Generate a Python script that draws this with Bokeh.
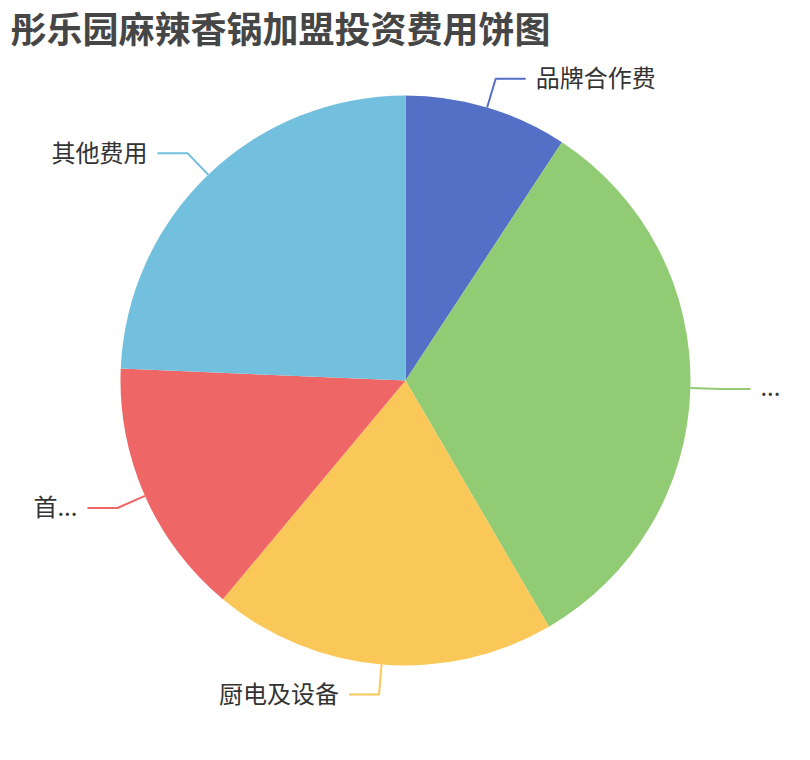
import math
from bokeh.plotting import figure
from bokeh.models import Range1d, ColumnDataSource, Label
from bokeh.core.properties import value
from bokeh.embed import file_html
from bokeh.resources import INLINE

# ---- data ----
title_text = "彤乐园麻辣香锅加盟投资费用饼图"
labels = ["品牌合作费", "...", "厨电及设备", "首...", "其他费用"]
values = [3.8, 13.3, 8.0, 6.0, 10.0]
colors = ["#5470c6", "#91cc75", "#fac858", "#ee6666", "#73c0de"]

W, H = 794, 744
CX, CY, R = 405, H - 380, 285
LEN1, LEN2, GAP = 30, 30, 10
FONT = "Noto Sans CJK SC"

p = figure(width=W, height=H, output_backend="svg", toolbar_location=None,
           x_range=Range1d(0, W), y_range=Range1d(0, H),
           x_axis_type=None, y_axis_type=None, min_border=0,
           outline_line_color=None, background_fill_color="white",
           border_fill_color="white")
p.grid.visible = False

total = sum(values)
starts, ends, mids = [], [], []
acc = 0.0
for v in values:
    a0 = math.pi / 2 - acc / total * 2 * math.pi
    acc += v
    a1 = math.pi / 2 - acc / total * 2 * math.pi
    starts.append(a0)
    ends.append(a1)
    mids.append((a0 + a1) / 2)

src = ColumnDataSource(dict(start=starts, end=ends, color=colors, label=labels,
                            x=[CX] * len(values), y=[CY] * len(values)))
p.wedge(x="x", y="y", radius=R, start_angle="start", end_angle="end",
        direction="clock", fill_color="color", line_color=None, source=src)

xs, ys, tx, ty, al = [], [], [], [], []
for m in mids:
    c, s = math.cos(m), math.sin(m)
    x1, y1 = CX + R * c, CY + R * s
    x2, y2 = CX + (R + LEN1) * c, CY + (R + LEN1) * s
    d = 1 if c >= 0 else -1
    x3 = x2 + d * LEN2
    xs.append([x1, x2, x3])
    ys.append([y1, y2, y2])
    tx.append(x3 + d * GAP)
    ty.append(y2 + 2)
    al.append("left" if d > 0 else "right")

lsrc = ColumnDataSource(dict(xs=xs, ys=ys, color=colors, tx=tx, ty=ty, al=al, label=labels))
p.multi_line(xs="xs", ys="ys", line_color="color", line_width=2, source=lsrc)
p.text(x="tx", y="ty", text="label", text_align="al", text_baseline="middle",
       text_font=value(FONT), text_font_size="24px", text_color="#333333", source=lsrc)

p.add_layout(Label(x=10, y=H - 26, x_units="screen", y_units="screen", text=title_text,
                   text_font=FONT, text_font_size="36px", text_font_style="bold",
                   text_color="#464646", text_baseline="middle", text_align="left"))

open("out.html", "w").write(file_html(p, INLINE))
